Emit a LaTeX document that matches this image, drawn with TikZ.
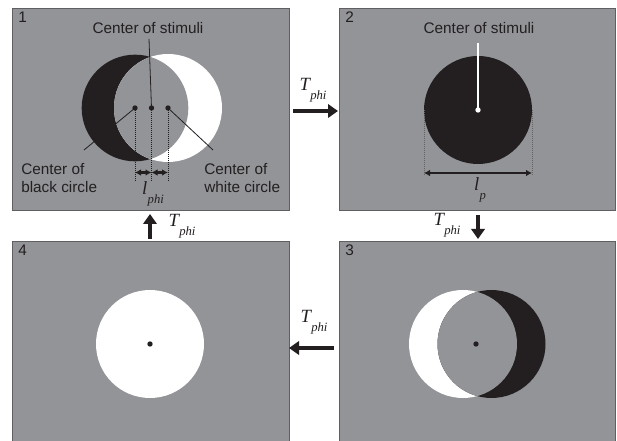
\documentclass[tikz,border=0pt]{standalone}
\usepackage{fontspec}
\setmainfont{Liberation Sans}
\newfontfamily\tms{Liberation Serif}
\usetikzlibrary{arrows.meta}
\definecolor{panelgray}{RGB}{147,148,152}
\definecolor{ink}{RGB}{35,31,32}
\definecolor{frame}{RGB}{95,95,98}
\newcommand{\subsc}[2]{{\tms\itshape #1\kern0.3pt\raisebox{-1.05ex}{\fontsize{9.5}{9.5}\selectfont #2}}}
\begin{document}
\begin{tikzpicture}[x=0.75pt,y=-0.75pt,
  panel/.style={fill=panelgray,draw=frame,line width=0.6pt},
  lbl/.style={font=\fontsize{11.5}{13.6}\selectfont,text=ink,inner sep=0pt},
  num/.style={font=\fontsize{11.5}{13.6}\selectfont,text=ink,inner sep=0pt,anchor=north west},
  tlabel/.style={font=\fontsize{14}{14}\selectfont,text=ink,inner sep=0pt},
  bigarrow/.style={draw=ink,line width=3pt,-{Triangle[length=7.5pt,width=10pt]}},
  pointer/.style={draw=ink,line width=0.6pt},
  guide/.style={draw=ink,line width=0.5pt,densely dotted},
  dimarrow/.style={draw=ink,line width=1.6pt,{Latex[length=4.5pt,width=5pt]}-{Latex[length=4.5pt,width=5pt]}},
  cdot/.style={circle,fill=ink,inner sep=0pt,minimum size=4pt},
  wdot/.style={circle,fill=white,inner sep=0pt,minimum size=4pt}]
\useasboundingbox (0,0) rectangle (617,441);
\clip (0,0) rectangle (617,441);
\fill[white] (0,0) rectangle (617,441);
% panels
\draw[panel] (12,8) rectangle (289,210);
\draw[panel] (339,8) rectangle (615,210);
\draw[panel] (339,241) rectangle (615,470);
\draw[panel] (12,241) rectangle (289,470);
\node[num] (n1) at (18,12) {1};
\node[num] (n2) at (345,12) {2};
\node[num] (n3) at (345,245) {3};
\node[num] (n4) at (18,245) {4};
% ---------- panel 1
\coordinate (b1) at (135,108);
\coordinate (w1) at (168,108);
\fill[ink] (b1) circle[radius=40pt];
\fill[white] (w1) circle[radius=40.5pt];
\begin{scope}
  \clip (b1) circle[radius=40pt];
  \fill[panelgray] (w1) circle[radius=40.5pt];
\end{scope}
\node[cdot] (bd1) at (b1) {};
\node[cdot] (sd1) at (151.5,108) {};
\node[cdot] (wd1) at (w1) {};
\node[lbl] (cs1) at (148,28) {Center of stimuli};
\coordinate (cs1e) at (149,39);
\draw[pointer] (cs1e) -- (sd1.center);
\node[lbl,anchor=north west,align=left] (cb1) at (21,163) {Center of\\black circle};
\node[lbl,anchor=north west,align=left] (cw1) at (204,163) {Center of\\white circle};
\coordinate (cb1e) at (84,150);
\coordinate (cw1e) at (213,150);
\draw[pointer] (bd1.center) -- (cb1e);
\draw[pointer] (wd1.center) -- (cw1e);
\coordinate (g1) at (135,182);
\coordinate (g2) at (151.5,182);
\coordinate (g3) at (168,182);
\draw[guide] (bd1.center) -- (g1);
\draw[guide] (sd1.center) -- (g2);
\draw[guide] (wd1.center) -- (g3);
\coordinate (a1) at (135,172.5);
\coordinate (a2) at (151.5,172.5);
\coordinate (a3) at (168,172.5);
\draw[dimarrow] (a1) -- (a2);
\draw[dimarrow] (a2) -- (a3);
\node[tlabel] (lphi) at (153,194) {\subsc{l}{phi}};
% ---------- panel 2
\coordinate (c2) at (478,110);
\fill[ink] (c2) circle[radius=40.5pt];
\node[wdot] (d2) at (c2) {};
\node[lbl] (cs2) at (479,28) {Center of stimuli};
\coordinate (cs2e) at (478,43);
\draw[white,line width=0.8pt] (cs2e) -- (d2.center);
\coordinate (l2) at (424,110);
\coordinate (r2) at (532,110);
\coordinate (l2b) at (424,176);
\coordinate (r2b) at (532,176);
\draw[guide,draw=ink!70] (l2) -- (l2b);
\draw[guide,draw=ink!70] (r2) -- (r2b);
\coordinate (l2a) at (424,173);
\coordinate (r2a) at (532,173);
\draw[dimarrow] (l2a) -- (r2a);
\node[tlabel] (lp) at (480,190) {\subsc{l}{p}};
% ---------- panel 3
\coordinate (w3) at (463,344);
\coordinate (b3) at (491.5,344);
\fill[white] (w3) circle[radius=40.5pt];
\fill[ink] (b3) circle[radius=40.5pt];
\begin{scope}
  \clip (w3) circle[radius=40.5pt];
  \fill[panelgray] (b3) circle[radius=40.5pt];
\end{scope}
\node[cdot] (d3) at (476,344) {};
% ---------- panel 4
\coordinate (c4) at (150,344);
\fill[white] (c4) circle[radius=40.5pt];
\node[cdot] (d4) at (c4) {};
% ---------- transition arrows
\coordinate (t12s) at (293,111);
\coordinate (t12e) at (338,111);
\draw[bigarrow] (t12s) -- (t12e);
\node[tlabel] (T12) at (313,90) {\subsc{T}{phi}};
\coordinate (t23s) at (478,215);
\coordinate (t23e) at (478,239);
\draw[bigarrow] (t23s) -- (t23e);
\node[tlabel] (T23) at (447,225) {\subsc{T}{phi}};
\coordinate (t34s) at (334,348);
\coordinate (t34e) at (289,348);
\draw[bigarrow] (t34s) -- (t34e);
\node[tlabel] (T34) at (314,322) {\subsc{T}{phi}};
\coordinate (t41s) at (150,239);
\coordinate (t41e) at (150,214);
\draw[bigarrow] (t41s) -- (t41e);
\node[tlabel] (T41) at (182,226) {\subsc{T}{phi}};
\end{tikzpicture}
\end{document}
